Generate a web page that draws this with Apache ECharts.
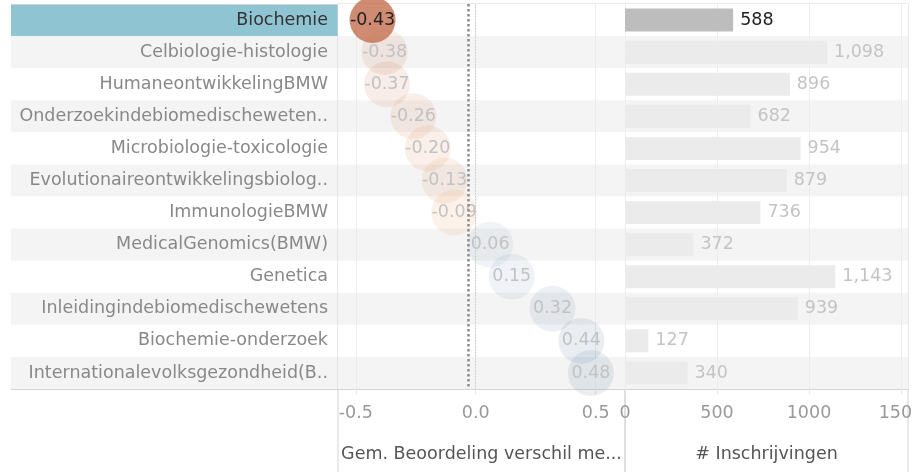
<!DOCTYPE html>
<html>
<head>
<meta charset="utf-8">
<script src="https://cdn.jsdelivr.net/npm/echarts@6/dist/echarts.min.js"></script>
<style>
  html, body { margin: 0; padding: 0; background: #fff; }
  #chart { width: 913px; height: 472px; }
</style>
</head>
<body>
<div id="chart"></div>
<script>
// course names, top to bottom
const categories = [
  'Biochemie',
  'Celbiologie-histologie',
  'HumaneontwikkelingBMW',
  'Onderzoekindebiomedischeweten..',
  'Microbiologie-toxicologie',
  'Evolutionaireontwikkelingsbiolog..',
  'ImmunologieBMW',
  'MedicalGenomics(BMW)',
  'Genetica',
  'Inleidingindebiomedischewetens',
  'Biochemie-onderzoek',
  'Internationalevolksgezondheid(B..',
]
// average rating difference
const scoreDiff = [-0.43, -0.38, -0.37, -0.26, -0.20, -0.13, -0.09, 0.06, 0.15, 0.32, 0.44, 0.48]
// number of enrolments
const enrolments = [588, 1098, 896, 682, 954, 879, 736, 372, 1143, 939, 127, 340]
const diffTicks = [-0.5, 0, 0.5]
const enrolTicks = [0, 500, 1000, 1500]
const selected = 'Biochemie'

const FONT = 'DejaVu Sans'
const FS = 17.5
const BORDER = '#d4d4d4'

function mix(a, b, t) {
  const c = a.map((v, i) => Math.round(v + (b[i] - v) * t))
  return 'rgb(' + c.join(',') + ')'
}

// orange-blue diverging colour
function divergingColor(v) {
  const t = Math.min(Math.abs(v) / 0.48, 1)
  return v < 0
    ? mix([240, 168, 96], [190, 100, 72], t)
    : mix([150, 175, 195], [85, 120, 160], t)
}

const chart = echarts.init(document.getElementById('chart'), null, { renderer: 'canvas' })

const hiddenAxis = { show: false }
const noBounds = { outerBoundsMode: 'none', containLabel: false }

const option = {
  animation: false,
  textStyle: { fontFamily: FONT },
  grid: [
    Object.assign({ left: 11, width: 327, top: 4, height: 385 }, noBounds),
    Object.assign({ left: 338, width: 287, top: 4, height: 385 }, noBounds),
    Object.assign({ left: 625, width: 283, top: 4, height: 385 }, noBounds),
    // frames that run down through the axis area
    Object.assign({ left: 338, width: 287, top: 4, bottom: -2, show: true, borderColor: BORDER, borderWidth: 1 }, noBounds),
    Object.assign({ left: 625, width: 283, top: 4, bottom: -2, show: true, borderColor: BORDER, borderWidth: 1 }, noBounds),
  ],
  xAxis: [
    {
      gridIndex: 0, type: 'value', min: 0, max: 1, position: 'bottom',
      axisLine: { show: true, lineStyle: { color: BORDER } },
      axisTick: { show: false }, axisLabel: { show: false }, splitLine: { show: false },
    },
    {
      gridIndex: 1, type: 'value', min: -0.574, max: 0.622,
      axisLine: { show: true, lineStyle: { color: BORDER } },
      axisTick: { show: true, customValues: diffTicks, length: 5, lineStyle: { color: '#e6e6e6' } },
      axisLabel: {
        customValues: diffTicks, margin: 15, color: '#999', fontSize: FS, fontFamily: FONT,
        formatter: (v) => v.toFixed(1),
      },
      splitLine: { show: true, lineStyle: { color: '#ececec' } },
      name: 'Gem. Beoordeling verschil me...',
      nameLocation: 'middle',
      nameGap: 56,
      nameTextStyle: { color: '#555', fontSize: FS, fontFamily: FONT },
    },
    {
      gridIndex: 2, type: 'value', min: 0, max: 1538,
      axisLine: { show: true, lineStyle: { color: BORDER } },
      axisTick: { show: true, customValues: enrolTicks, length: 5, lineStyle: { color: '#e6e6e6' } },
      axisLabel: {
        customValues: enrolTicks, margin: 15, color: '#999', fontSize: FS, fontFamily: FONT,
        formatter: (v) => String(v),
      },
      splitLine: { show: true, lineStyle: { color: '#ececec' } },
      name: '# Inschrijvingen',
      nameLocation: 'middle',
      nameGap: 56,
      nameTextStyle: { color: '#555', fontSize: FS, fontFamily: FONT },
    },
    Object.assign({ gridIndex: 3, type: 'value' }, hiddenAxis),
    Object.assign({ gridIndex: 4, type: 'value' }, hiddenAxis),
    {
      gridIndex: 0, type: 'value', min: 0, max: 1, position: 'top',
      axisLine: { show: true, lineStyle: { color: BORDER } },
      axisTick: { show: false }, axisLabel: { show: false }, splitLine: { show: false },
    },
  ],
  yAxis: [
    {
      gridIndex: 0, type: 'category', data: categories, inverse: true, z: -2,
      axisLine: { show: false }, axisTick: { show: false }, axisLabel: { show: false },
      splitArea: { show: true, interval: 0, areaStyle: { color: ['#ffffff', '#f4f4f4'] } },
    },
    {
      gridIndex: 1, type: 'category', data: categories, inverse: true,
      axisLine: { show: false }, axisTick: { show: false },
      axisLabel: {
        interval: 0, margin: 10, fontSize: FS, fontFamily: FONT,
        color: (v) => (v === selected ? '#333' : '#888'),
      },
      splitArea: { show: true, interval: 0, areaStyle: { color: ['#ffffff', '#f4f4f4'] } },
    },
    {
      gridIndex: 2, type: 'category', data: categories, inverse: true,
      axisLine: { show: false }, axisTick: { show: false }, axisLabel: { show: false },
      splitArea: { show: true, interval: 0, areaStyle: { color: ['#ffffff', '#f4f4f4'] } },
    },
    Object.assign({ gridIndex: 3, type: 'value' }, hiddenAxis),
    Object.assign({ gridIndex: 4, type: 'value' }, hiddenAxis),
  ],
  series: [
    {
      // highlight of the selected row in the label column
      type: 'bar',
      xAxisIndex: 0,
      yAxisIndex: 0,
      silent: true,
      z: -1,
      barWidth: '100%',
      itemStyle: { color: '#8fc5d3' },
      data: categories.map((c) => (c === selected ? 1 : '-')),
    },
    {
      type: 'scatter',
      xAxisIndex: 1,
      yAxisIndex: 1,
      symbolSize: 46,
      data: categories.map((c, i) => ({
        value: [scoreDiff[i], c],
        itemStyle: {
          color: divergingColor(scoreDiff[i]),
          opacity: c === selected ? 0.78 : 0.13,
        },
        label: { color: c === selected ? '#222' : '#c2c2c2', opacity: 1 },
      })),
      label: {
        show: true,
        position: 'inside',
        fontSize: FS,
        fontFamily: FONT,
        textBorderWidth: 0,
        opacity: 1,
        formatter: (p) => p.value[0].toFixed(2),
      },
      markLine: {
        silent: true,
        symbol: ['none', 'none'],
        label: { show: false },
        data: [
          { xAxis: 0, lineStyle: { color: '#c8c8c8', width: 1, type: [1.5, 1.5] } },
          { type: 'average', valueDim: 'x', lineStyle: { color: '#8c8c8c', width: 2.5, type: [2.5, 2.5] } },
        ],
      },
    },
    {
      type: 'bar',
      xAxisIndex: 2,
      yAxisIndex: 2,
      barWidth: 23,
      data: categories.map((c, i) => ({
        value: enrolments[i],
        itemStyle: { color: c === selected ? '#bdbdbd' : '#ebebeb' },
        label: { color: c === selected ? '#222' : '#c4c4c4' },
      })),
      label: {
        show: true,
        position: 'right',
        distance: 7,
        fontSize: FS,
        fontFamily: FONT,
        formatter: (p) => p.value.toLocaleString('en-US'),
      },
    },
  ],
}

chart.setOption(option)
</script>
</body>
</html>
